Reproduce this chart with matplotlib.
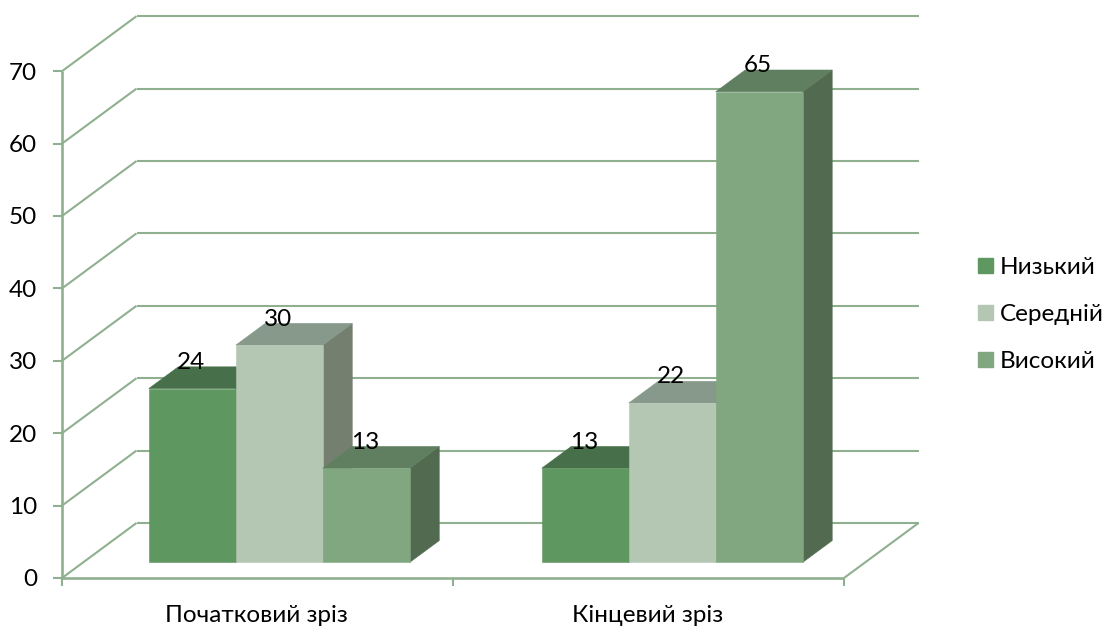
import matplotlib
matplotlib.use("Agg")
import matplotlib.pyplot as plt
from matplotlib.patches import Polygon, Patch

categories = ["Початковий зріз", "Кінцевий зріз"]
series_names = ["Низький", "Середній", "Високий"]
low = [24, 13]
mid = [30, 22]
high = [13, 65]
y_ticks = [0, 10, 20, 30, 40, 50, 60, 70]

front_colors = ["#5F9760", "#B3C7B3", "#80A780"]
top_colors = ["#47704A", "#87998A", "#5F7F60"]
side_colors = ["#3F5F40", "#747F70", "#526B50"]
line_color = "#8FB08F"

W, H = 1105, 626
PX_U = 391.0
PX_V = 7.24
X0, Y0 = 62.0, 578.0
DX, DY = 74.5, 55.0
FONT = ["Lato", "DejaVu Sans"]
FS = 17.5

fig = plt.figure(figsize=(W / 100, H / 100), dpi=100, facecolor="white")
ax = fig.add_axes([0, 0, 1, 1])
ax.set_xlim(-X0 / PX_U, (W - X0) / PX_U)
ax.set_ylim((Y0 - H) / PX_V, Y0 / PX_V)
ax.axis("off")


def proj(u, v, d=0.0):
    return (u + d * DX / PX_U, v + d * DY / PX_V)


def line(p, q, lw=1.5, z=1):
    ax.plot([p[0], q[0]], [p[1], q[1]], color=line_color, lw=lw, zorder=z,
            solid_capstyle="butt")


n_cat = len(categories)
for t in y_ticks:
    line(proj(0, t, 1), proj(n_cat, t, 1))
    line(proj(0, t, 0), proj(0, t, 1))
    line((-9 / PX_U, t), (0, t))
    ax.text(-25 / PX_U, t, str(t), ha="right", va="center_baseline",
            fontsize=FS, family=FONT, color="black")

line(proj(0, 0), proj(0, y_ticks[-1]), lw=1.9)
line(proj(0, 0), proj(n_cat, 0), lw=1.9)
line(proj(n_cat, 0, 0), proj(n_cat, 0, 1))
for i in range(n_cat + 1):
    line((i, 0), (i, -8 / PX_V))

bar_w = 0.2225
d0, d1 = 0.285, 0.68
values = [low, mid, high]
z = 3
for c, cat in enumerate(categories):
    left = c * 1.005 + 0.5 - 1.5 * bar_w + 0.0015
    for s in range(len(series_names)):
        v = values[s][c]
        a, b = left + s * bar_w, left + (s + 1) * bar_w
        front = [proj(a, 0, d0), proj(b, 0, d0), proj(b, v, d0), proj(a, v, d0)]
        top = [proj(a, v, d0), proj(b, v, d0), proj(b, v, d1), proj(a, v, d1)]
        side = [proj(b, 0, d0), proj(b, 0, d1), proj(b, v, d1), proj(b, v, d0)]
        for pts, col in ((side, side_colors[s]), (top, top_colors[s]), (front, front_colors[s])):
            ax.add_patch(Polygon(pts, closed=True, facecolor=col, edgecolor=col,
                                 lw=0.4, zorder=z))
        z += 1
    for s in range(len(series_names)):
        v = values[s][c]
        xc, yc = proj(left + (s + 0.5) * bar_w, v, d0)
        ax.annotate(str(v), (xc, yc), xytext=(-0.7, 20.2), textcoords="offset points",
                    ha="center", va="center_baseline", fontsize=FS, family=FONT,
                    color="black", zorder=50)
    ax.text(c + 0.5 - 0.002, (Y0 - 614) / PX_V, cat, ha="center", va="center_baseline",
            fontsize=FS, family=FONT, color="black")

handles = [Patch(facecolor=col, edgecolor=col, label=name)
           for col, name in zip(front_colors, series_names)]
leg = ax.legend(handles=handles, loc="center left",
                bbox_to_anchor=(978 / W, 1 - 314.5 / H), bbox_transform=fig.transFigure,
                frameon=False, borderpad=0, borderaxespad=0,
                handlelength=0.62, handleheight=0.62, handletextpad=0.29,
                labelspacing=1.07, prop={"family": FONT, "size": FS})

fig.savefig("out.png", dpi=100, facecolor="white")
